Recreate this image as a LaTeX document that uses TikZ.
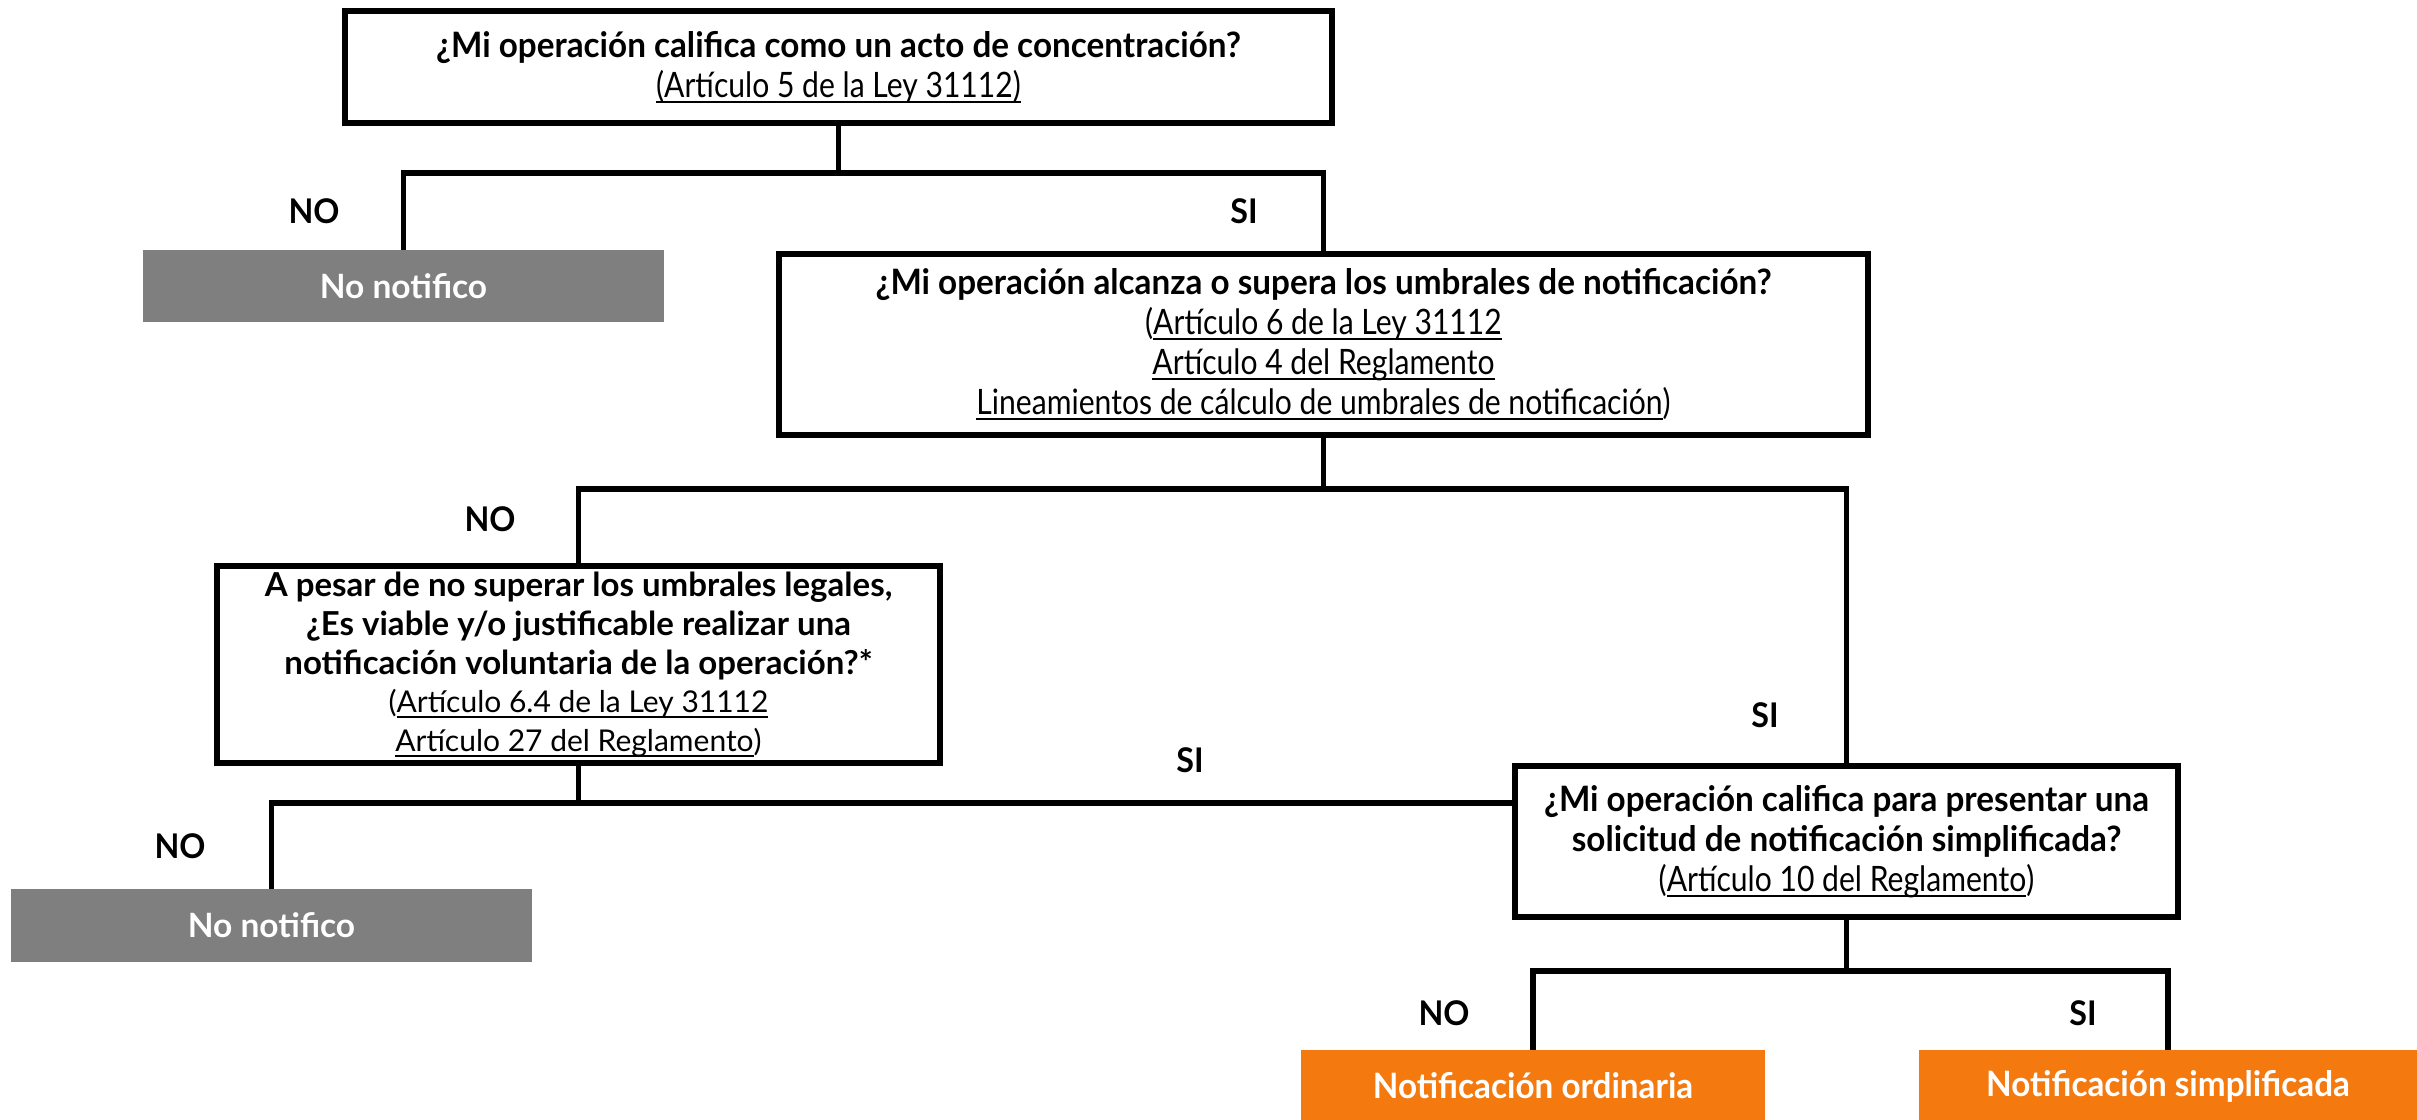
\documentclass[tikz,border=0pt]{standalone}
\usepackage{fontspec}
\setmainfont{Lato}
\newfontfamily\condfont{Lato}[FakeStretch=0.95]
\newfontfamily\condreg{Lato}[FakeStretch=0.86]
\newsavebox{\myulbox}
\newcommand{\myul}[1]{\sbox{\myulbox}{#1}\rlap{\rule[-5.5pt]{\wd\myulbox}{1.8pt}}\usebox{\myulbox}}
\newcommand{\qt}[1]{{\condfont\bfseries #1}}
\newcommand{\wt}[1]{{\fontsize{33}{38.6}\selectfont\bfseries #1}}
\definecolor{greyc}{RGB}{127,127,127}
\definecolor{orangec}{RGB}{244,122,16}
\begin{document}
\begin{tikzpicture}[x=1pt,y=-1pt,
  qbox/.style={draw=black, line width=6.5pt, fill=white, align=center, inner sep=0pt,
    font=\condreg\fontsize{35}{40}\selectfont},
  wbox/.style={draw=black, line width=6.5pt, fill=white, align=center, inner sep=0pt,
    font=\fontsize{30}{38.6}\selectfont},
  greybox/.style={fill=greyc, text=white, inner sep=0pt, font=\bfseries\fontsize{33.5}{38}\selectfont},
  orangebox/.style={fill=orangec, text=white, inner sep=0pt, font=\condfont\bfseries\fontsize{35}{40}\selectfont},
  conn/.style={line width=5.5pt},
  lab/.style={font=\condfont\bfseries\fontsize{34}{38}\selectfont}]
\useasboundingbox (0,0) rectangle (2417,1119);

% boxes
\node[qbox, minimum width=987pt, minimum height=112pt] (b1) at (838.5,67)
  {\qt{¿Mi operación califica como un acto de concentración?}\\
   \myul{(Artículo 5 de la Ley 31112)}};
\node[qbox, minimum width=1089pt, minimum height=181pt] (b2) at (1323.5,344.5)
  {\qt{¿Mi operación alcanza o supera los umbrales de notificación?}\\
   (\myul{Artículo 6 de la Ley 31112}\\
   \myul{Artículo 4 del Reglamento}\\
   \myul{Lineamientos de cálculo de umbrales de notificación})};
\node[wbox, minimum width=723pt, minimum height=197pt] (b3) at (578.5,664.5)
  {\wt{A pesar de no superar los umbrales legales,}\\
   \wt{¿Es viable y/o justificable realizar una}\\
   \wt{notificación voluntaria de la operación?*}\\
   (\myul{Artículo 6.4 de la Ley 31112}\\
   \myul{Artículo 27 del Reglamento})};
\node[qbox, minimum width=663pt, minimum height=151pt] (b4) at (1846.5,841.5)
  {\qt{¿Mi operación califica para presentar una}\\
   \qt{solicitud de notificación simplificada?}\\
   (\myul{Artículo 10 del Reglamento})};

\node[greybox, minimum width=521pt, minimum height=72pt] (g1) at (403.5,286) {No notifico};
\node[greybox, minimum width=521pt, minimum height=73pt] (g2) at (271.5,925.5) {No notifico};
\node[orangebox, minimum width=464pt, minimum height=72pt] (o1) at (1533,1086) {Notificación ordinaria};
\node[orangebox, minimum width=498pt, minimum height=72pt] (o2) at (2168,1086) {Notificación simplificada};

% junction coordinates
\coordinate (j1) at (837,173);
\coordinate (j2) at (1323.5,489);
\coordinate (j3) at (578.5,803);
\coordinate (j4) at (1846.5,971);

% connectors
\draw[conn] (b1.south) -- (b1.south |- j1);
\draw[conn] (g1.north) |- (b2.north |- j1) -- (b2.north);
\draw[conn] (b2.south) -- (j2);
\draw[conn] (b3.north) |- (b4.north |- j2) -- (b4.north);
\draw[conn] (b3.south) -- (j3);
\draw[conn] (g2.north) |- (b4.west |- j3);
\draw[conn] (b4.south) -- (j4);
\draw[conn] (o1.north) |- (o2.north |- j4) -- (o2.north);

% labels
\node[lab] (l1) at (314,211) {NO};
\node[lab] (l2) at (1244,211) {SI};
\node[lab] (l3) at (490,519) {NO};
\node[lab] (l4) at (1765,715) {SI};
\node[lab] (l5) at (1190,760) {SI};
\node[lab] (l6) at (180,846) {NO};
\node[lab] (l7) at (1444,1013) {NO};
\node[lab] (l8) at (2083,1013) {SI};
\end{tikzpicture}
\end{document}
